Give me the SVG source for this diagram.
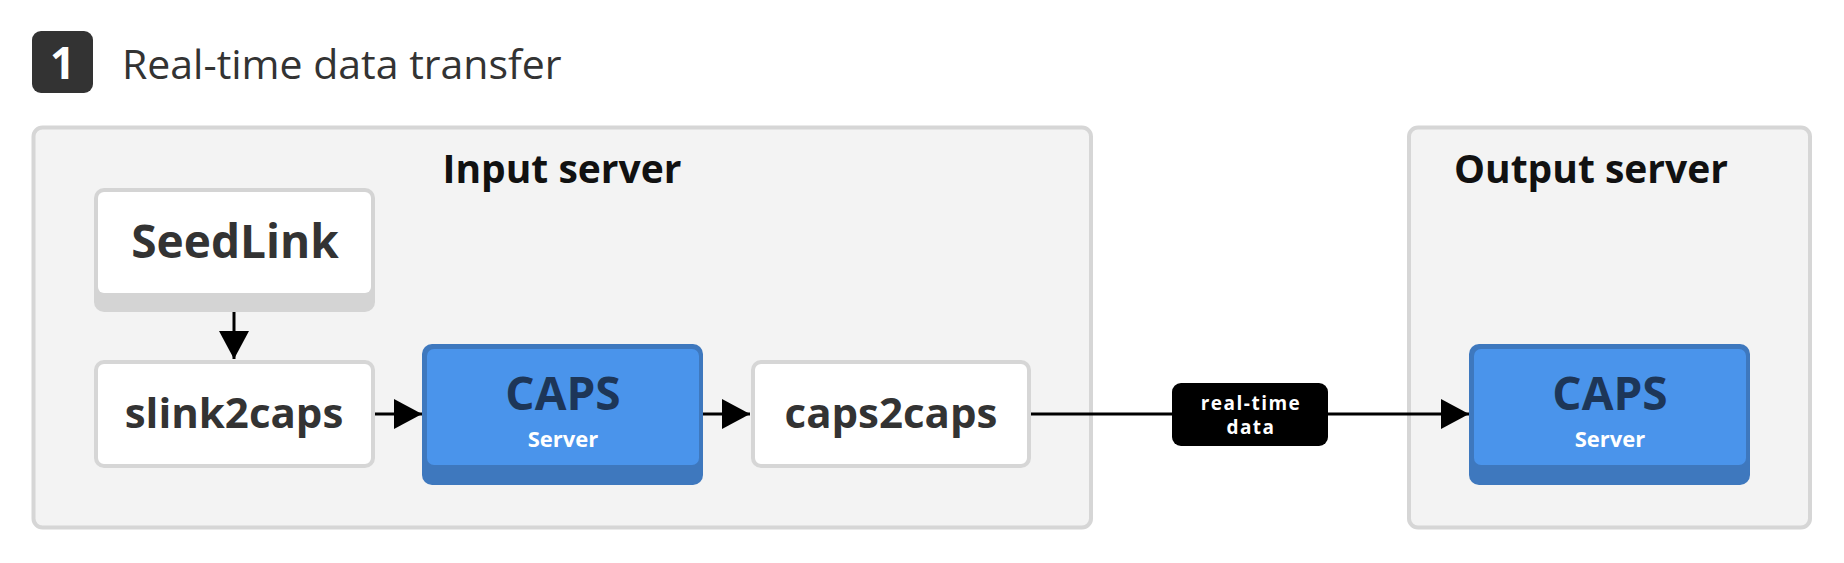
<svg xmlns="http://www.w3.org/2000/svg" width="1844" height="563" viewBox="0 0 1844 563">
  <defs>
    <marker id="arrow" markerUnits="userSpaceOnUse" markerWidth="28" markerHeight="30" refX="28" refY="15" orient="auto">
      <path d="M0,0 L28,15 L0,30 Z" fill="#000"/>
    </marker>
    <style>
      text { font-family: "Open Sans", "Noto Sans", "Liberation Sans", sans-serif; }
      .group { fill: #f3f3f3; stroke: #d6d6d6; stroke-width: 4; }
      .glabel { font-size: 39px; font-weight: 700; fill: #111; text-anchor: middle; }
      .plain { fill: #ffffff; stroke: #d6d6d6; stroke-width: 4; }
      .ntext { font-size: 42px; font-weight: 700; fill: #333; text-anchor: middle; }
      .ntext.big { font-size: 46px; }
      .shadow-gray { fill: #d4d4d4; }
      .face-white { fill: #ffffff; }
      .caps-outer { fill: #3e78be; }
      .caps-inner { fill: #4a94eb; }
      .caps-title { font-size: 46px; font-weight: 700; fill: #1d3658; text-anchor: middle; }
      .caps-sub { font-size: 22px; font-weight: 700; fill: #ffffff; text-anchor: middle; }
      .conn { stroke: #000; stroke-width: 3; fill: none; }
      .elabel-bg { fill: #000; }
      .elabel { font-size: 19px; font-weight: 700; fill: #fff; text-anchor: middle; letter-spacing: 1.5px; }
    </style>
  </defs>

  <g id="heading">
    <rect x="32" y="31" width="61" height="62" rx="9" fill="#333"/>
    <text x="62.5" y="79" font-size="44" font-weight="700" fill="#fff" text-anchor="middle">1</text>
    <text x="122" y="79" font-size="41" fill="#333">Real-time data transfer</text>
  </g>

  <g id="input-server">
    <rect class="group" x="33.5" y="127.5" width="1057.5" height="400" rx="9"/>
    <text class="glabel" x="562" y="183">Input server</text>
  </g>

  <g id="output-server">
    <rect class="group" x="1409" y="127.5" width="401" height="400" rx="9"/>
    <text class="glabel" x="1591" y="183">Output server</text>
  </g>

  <g id="seedlink">
    <rect class="shadow-gray" x="94" y="188" width="281" height="124" rx="10"/>
    <rect class="face-white" x="98" y="192" width="273" height="101" rx="6"/>
    <text class="ntext big" x="235" y="258">SeedLink</text>
  </g>

  <g id="slink2caps">
    <rect class="plain" x="96" y="362" width="277" height="104" rx="8"/>
    <text class="ntext" x="234" y="428">slink2caps</text>
  </g>

  <g id="caps-input">
    <rect class="caps-outer" x="422" y="344" width="281" height="141" rx="10"/>
    <rect class="caps-inner" x="427" y="349" width="272" height="116" rx="7"/>
    <text class="caps-title" x="563" y="410">CAPS</text>
    <text class="caps-sub" x="563" y="447">Server</text>
  </g>

  <g id="caps2caps">
    <rect class="plain" x="753" y="362" width="276" height="104" rx="8"/>
    <text class="ntext" x="891" y="428">caps2caps</text>
  </g>

  <g id="caps-output">
    <rect class="caps-outer" x="1469" y="344" width="281" height="141" rx="10"/>
    <rect class="caps-inner" x="1474" y="349" width="272" height="116" rx="7"/>
    <text class="caps-title" x="1610" y="410">CAPS</text>
    <text class="caps-sub" x="1610" y="447">Server</text>
  </g>

  <g id="connectors">
    <line class="conn" x1="234" y1="312" x2="234" y2="359" marker-end="url(#arrow)"/>
    <line class="conn" x1="375" y1="414" x2="422" y2="414" marker-end="url(#arrow)"/>
    <line class="conn" x1="703" y1="414" x2="750" y2="414" marker-end="url(#arrow)"/>
    <line class="conn" x1="1031" y1="414" x2="1469" y2="414" marker-end="url(#arrow)"/>
    <g id="edge-label">
      <rect class="elabel-bg" x="1172" y="383" width="156" height="63" rx="9"/>
      <text class="elabel" x="1251" y="410">real-time</text>
      <text class="elabel" x="1251" y="434">data</text>
    </g>
  </g>
</svg>
